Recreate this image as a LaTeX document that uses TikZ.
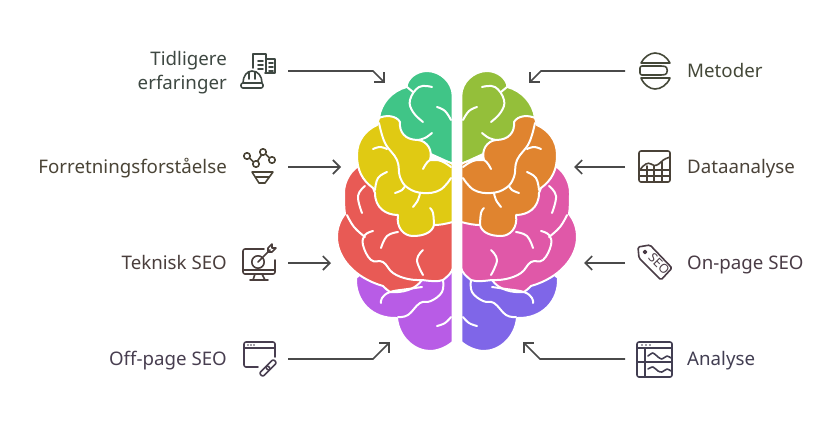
\documentclass[tikz,border=0pt]{standalone}
\usepackage{fontspec}
\setmainfont{Noto Sans}
\usepackage{xcolor}
\usetikzlibrary{arrows.meta, positioning}
\definecolor{brainmint}{RGB}{64,197,135}
\definecolor{brainyellow}{RGB}{224,202,19}
\definecolor{brainred}{RGB}{232,90,85}
\definecolor{brainpurple}{RGB}{184,92,230}
\definecolor{brainlime}{RGB}{148,191,58}
\definecolor{brainorange}{RGB}{224,132,47}
\definecolor{brainpink}{RGB}{224,88,168}
\definecolor{brainviolet}{RGB}{127,102,232}
\definecolor{arrowgray}{RGB}{74,74,74}
\definecolor{inkmint}{RGB}{62,72,66}
\definecolor{inkyellow}{RGB}{74,68,54}
\definecolor{inkred}{RGB}{74,62,60}
\definecolor{inkpurple}{RGB}{72,62,80}
\definecolor{inklime}{RGB}{68,72,56}
\definecolor{inkorange}{RGB}{74,66,56}
\definecolor{inkpink}{RGB}{74,60,70}
\definecolor{inkviolet}{RGB}{66,62,82}

\begin{document}
\begin{tikzpicture}[
                x=1pt, y=-1pt,
                line join=round,
                lobe/.style={draw=white, line width=2pt},
                brainline/.style={draw=white, line width=2pt, line cap=round, smooth, tension=0.7},
                darkarrow/.style={draw=arrowgray, line width=1.6pt, line join=miter, -{Straight Barb[length=7pt, width=14pt, line width=1.6pt]}},
                iconline/.style={line width=1.6pt, line cap=round, line join=round},
                leftlabel/.style={anchor=east, align=right, inner sep=0pt, yshift=-1.5pt, font=\fontsize{18.7}{24}\selectfont},
                rightlabel/.style={anchor=west, align=left, inner sep=0pt, yshift=-1.5pt, font=\fontsize{18.7}{24}\selectfont}
                ]
                \useasboundingbox (0,0) rectangle (830,426);

                %% Brain
                \foreach \mirror/\shift/\colA/\colB/\colC/\colD in {1/0/brainmint/brainyellow/brainred/brainpurple, -1/914/brainlime/brainorange/brainpink/brainviolet} {
                \begin{scope}[xshift=\shift pt, xscale=\mirror]
                        % Lobes
                        \fill[\colD, lobe, fill=\colD] (356,278) .. controls (355,301) and (372,319) .. (397,318) .. controls (399,338) and (415,351) .. (430,351) .. controls (438,351) and (447,347) .. (452.7,342) -- (452.7,260) -- (370,265) -- cycle;
                        \fill[\colC, lobe, fill=\colC] (357,167) .. controls (349,173) and (344,183) .. (344,193) .. controls (344,200) and (344,208) .. (345,214) .. controls (340,220) and (337,228) .. (337,237) .. controls (337,258) and (355,278) .. (383,286) .. controls (385,288) and (387,290) .. (390,292) .. controls (402,293) and (415,290) .. (422,280) .. controls (430,281) and (438,282) .. (443,280) .. controls (447,277) and (452.7,272) .. (452.7,268) -- (452.7,200) -- (380,170) -- cycle;
                        \fill[\colA, lobe, fill=\colA] (452.7,164) -- (452.7,96) .. controls (452.7,82) and (440,71) .. (427,71) .. controls (416,71) and (407,79) .. (406.5,87) .. controls (392,91) and (381,103) .. (379,118) -- (400,140) -- cycle;
                        \fill[\colB, lobe, fill=\colB] (379,118) .. controls (385,115) and (396,115) .. (400,122) .. controls (399,132) and (405,140) .. (418,140) .. controls (427,141) and (433,150) .. (430,160) .. controls (438,160) and (446,160) .. (452.7,164) -- (452.7,222) .. controls (445,224) and (440,225) .. (434,225) .. controls (432,233) and (423,236) .. (413,236) .. controls (404,236) and (396,228) .. (398,215) .. controls (386,215) and (375,208) .. (375,193) -- (373,188) .. controls (362,180) and (357,170) .. (357,155) .. controls (357,140) and (366,130) .. (377,125) -- cycle;

                        % Folds
                        \draw[brainline] (407,87) -- (413,92);
                        \draw[brainline] plot coordinates {(432,87) (419,87) (410,100) (413,112) (423,122)};
                        \draw[brainline] plot coordinates {(437,107) (445,111) (451,120)};
                        \draw[brainline] plot coordinates {(432,133) (425,138) (418,140)};
                        \draw[brainline] plot coordinates {(379,123) (385,143) (397,160) (400,177) (408,188) (423,193) (440,190) (451,178)};
                        \draw[brainline] plot coordinates {(423,169) (430,160) (441,161) (451,167)};
                        \draw[brainline] plot coordinates {(373,149) (380,147) (387,149)};
                        \draw[brainline] plot coordinates {(387,172) (378,178) (375,190)};
                        \draw[brainline] plot coordinates {(395,193) (402,190) (405,186)};
                        \draw[brainline] plot coordinates {(413,207) (418,200) (420,193)};
                        \draw[brainline] plot coordinates {(430,208) (433,213) (434,225)};
                        \draw[brainline] plot coordinates {(365,186) (358,196) (362,213)};
                        \draw[brainline] plot coordinates {(347,215) (354,227) (365,237)};
                        \draw[brainline] plot coordinates {(373,231) (365,235) (363,245) (371,260) (383,262) (393,273) (408,279) (422,280)};
                        \draw[brainline] plot coordinates {(398,232) (387,236) (381,248)};
                        \draw[brainline] plot coordinates {(423,250) (417,260) (423,275)};
                        \draw[brainline] plot coordinates {(443,280) (442,292) (431,301) (420,303) (408,315) (398,317)};
                        \draw[brainline] plot coordinates {(422,287) (408,289) (390,292) (382,298) (381,303)};
                        \draw[brainline] plot coordinates {(451,317) (445,323) (437,326)};
                \end{scope}
                }

                %% Arrows
                \foreach \arrowname/\tailx/\tipx/\y in {forretning/288/341/167, teknisk/288/331/263, dataanalyse/625/574/167, onpage/625/584/263} {
                    \coordinate (\arrowname tail) at (\tailx,\y);
                    \coordinate (\arrowname tip) at (\tipx,\y);
                    \draw[darkarrow] (\arrowname tail) -- (\arrowname tip);
                }
                \foreach \arrowname/\tailx/\bendx/\bendy/\tipx/\tipy in {tidligere/288/373/71/385/83, offpage/288/373/359/390/342, metoder/625/541/71/529/83, analyse/625/540/359/523/342} {
                    \coordinate (\arrowname tail) at (\tailx,\bendy);
                    \coordinate (\arrowname bend) at (\bendx,\bendy);
                    \coordinate (\arrowname tip) at (\tipx,\tipy);
                    \draw[darkarrow] (\arrowname tail) -- (\arrowname bend) -- (\arrowname tip);
                }

                %% Labels
                \node[leftlabel, text=inkmint] (tidligerelabel) at (227,71) {Tidligere\strut\\erfaringer\strut};
                \node[leftlabel, text=inkyellow] (forretninglabel) at (227,167) {Forretningsforståelse\strut};
                \node[leftlabel, text=inkred] (teknisklabel) at (227,263) {Teknisk SEO\strut};
                \node[leftlabel, text=inkpurple] (offpagelabel) at (227,359) {Off-page SEO\strut};
                \node[rightlabel, text=inklime] (metoderlabel) at (687,71) {Metoder\strut};
                \node[rightlabel, text=inkorange] (dataanalyselabel) at (687,167) {Dataanalyse\strut};
                \node[rightlabel, text=inkpink] (onpagelabel) at (687,263) {On-page SEO\strut};
                \node[rightlabel, text=inkviolet] (analyselabel) at (687,359) {Analyse\strut};

                %% Icons
                % Hard hat and buildings
                \begin{scope}[iconline, draw=inkmint]
                    \draw[rounded corners=2pt] (241,83) rectangle (263,88);
                    \draw (243,83) .. controls (243,76) and (247,71) .. (252,71) .. controls (258,71) and (262,76) .. (262,83);
                    \draw (249,72) -- (249,79) (255,72) -- (255,79);
                    \draw (253,68) -- (253,54) -- (266,54) -- (266,72);
                    \draw (266,59) -- (275,59) -- (275,73) -- (265,73);
                    \foreach \y in {61,65,69} \draw (258,\y) -- (263,\y);
                    \foreach \y in {63,67,71} \draw (269,\y) -- (273,\y);
                \end{scope}
                % Network and funnel
                \begin{scope}[iconline, draw=inkyellow]
                    \draw (247,156) circle (3.2pt) (256,164) circle (3.2pt) (263,152) circle (3.2pt) (272,160) circle (3.2pt);
                    \draw (249.5,158) -- (253.5,162) (257.5,161) -- (261.5,155) (265.5,154) -- (269.5,158);
                    \draw (252,172) -- (273,172) -- (265,183) -- (259,183) -- cycle;
                    \draw (256,177) -- (269,177);
                \end{scope}
                % Monitor and target
                \begin{scope}[iconline, draw=inkred]
                    \draw[rounded corners=2pt] (264,249) -- (243,249) -- (243,274) -- (275,274) -- (275,260);
                    \draw (243,270) -- (275,270);
                    \draw (255,274) -- (253,280) (262,274) -- (265,280) (250,280) -- (268,280);
                    \draw (258,262) circle (6.2pt);
                    \draw (258,262) -- (270,250);
                    \draw (268,248) -- (268,252) -- (272,252) -- (276,248) -- (272,248) -- (272,244) -- cycle;
                \end{scope}
                % Browser and link
                \begin{scope}[iconline, draw=inkpurple]
                    \draw[rounded corners=2pt] (258,367) -- (244,367) -- (244,342) -- (275,342) -- (275,357);
                    \draw (244,348) -- (275,348);
                    \foreach \x in {248,251,254} \fill[inkpurple] (\x,345) circle (0.8pt);
                    \draw[rounded corners=2pt] (259.2,373.2) -- (267.2,365.2) -- (270.8,368.8) -- (262.8,376.8) -- cycle;
                    \draw[rounded corners=2pt] (265.2,367.2) -- (273.2,359.2) -- (276.8,362.8) -- (268.8,370.8) -- cycle;
                \end{scope}
                % Stacked discs
                \begin{scope}[iconline, draw=inklime]
                    \draw (641,63) .. controls (644,57) and (650,53) .. (655,53) .. controls (661,53) and (667,57) .. (670,63) -- cycle;
                    \draw[rounded corners=2pt] (640,66) -- (663,66) .. controls (668,67) and (668,74) .. (663,75) -- (640,75) -- cycle;
                    \draw (641,78) .. controls (644,85) and (650,89) .. (655,89) .. controls (661,89) and (667,85) .. (670,78) -- cycle;
                \end{scope}
                % Chart and grid
                \begin{scope}[iconline, draw=inkorange]
                    \draw[rounded corners=2pt] (639,151) rectangle (670,182);
                    \draw (640,170) .. controls (644,164) and (648,162) .. (651,164) .. controls (655,167) and (658,165) .. (661,162) .. controls (664,159) and (667,158) .. (670,157);
                    \draw (647,166) -- (647,182) (654,166) -- (654,182) (662,162) -- (662,182);
                    \draw (639,170) -- (670,170) (639,176) -- (670,176);
                \end{scope}
                % Tag
                \begin{scope}[iconline, draw=inkpink]
                    \draw[rounded corners=1.5pt] (638,247) -- (650,245) -- (672,268) -- (661,280) -- (639,258) -- cycle;
                    \draw (645,252) circle (1.5pt);
                    \node[rotate=-45, text=inkpink, font=\fontsize{12.5}{12.5}\bfseries\selectfont, inner sep=0pt] (tagtext) at (659,264) {SEO};
                \end{scope}
                % Browser and waves
                \begin{scope}[iconline, draw=inkviolet]
                    \draw[rounded corners=2pt] (637,342) rectangle (672,377);
                    \draw (637,348) -- (672,348) (645,348) -- (645,377) (637,362) -- (672,362);
                    \foreach \x in {642,646,650} \fill[inkviolet] (\x,345) circle (0.8pt);
                    \draw[smooth] plot coordinates {(648,356) (653,353) (658,357) (662,359) (667,356) (671,358)};
                    \draw[smooth] plot coordinates {(648,369) (653,367) (658,371) (662,372) (667,369) (671,371)};
                \end{scope}
\end{tikzpicture}
\end{document}
